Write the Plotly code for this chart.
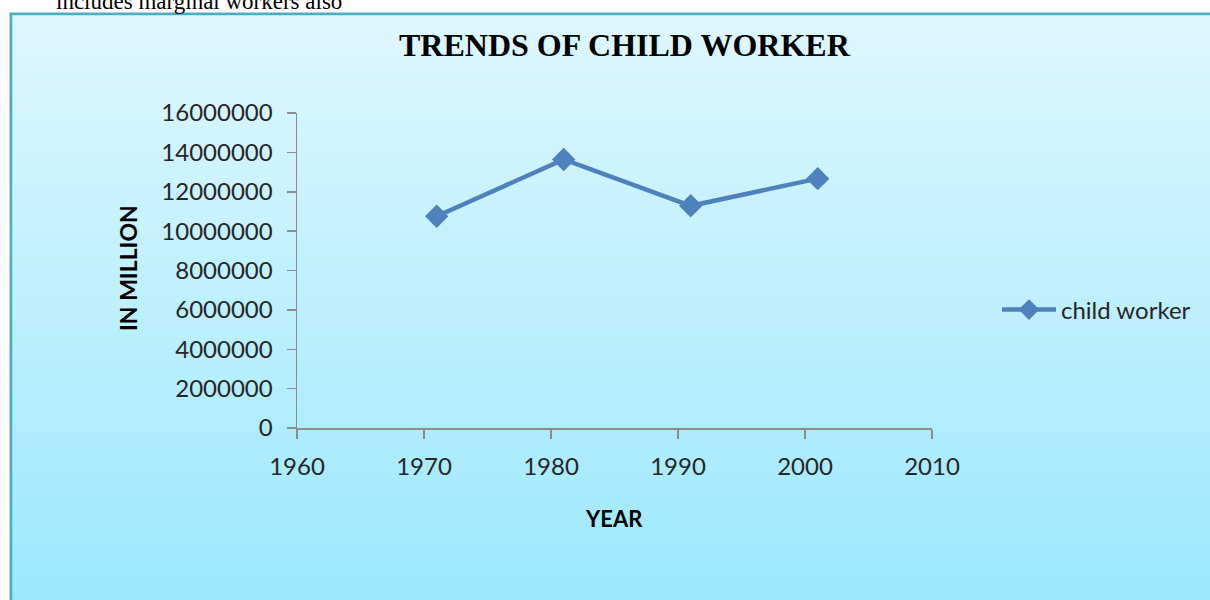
import plotly.graph_objects as go

years = [1971, 1981, 1991, 2001]
child_workers = [10753985, 13640870, 11285349, 12666377]
series_name = "child worker"
x_ticks = [1960, 1970, 1980, 1990, 2000, 2010]
y_ticks = [0, 2000000, 4000000, 6000000, 8000000, 10000000, 12000000, 14000000, 16000000]

W, H = 1210, 600
def px(x): return x / W
def py(y): return 1 - y / H

fig = go.Figure()
fig.add_trace(go.Scatter(
    x=years, y=child_workers, name=series_name, mode="lines+markers",
    line=dict(color="#4f81bd", width=4.5),
    marker=dict(symbol="diamond", size=18, color="#4f81bd"),
    showlegend=True,
))

shapes = []
top_c = (222, 247, 254)
bot_c = (156, 232, 253)
y0, y1 = 14, 600
n = 80
for i in range(n):
    t = i / (n - 1)
    c = tuple(round(top_c[k] + (bot_c[k] - top_c[k]) * t) for k in range(3))
    ya = y0 + (y1 - y0) * i / n
    yb = y0 + (y1 - y0) * (i + 1) / n + 0.5
    shapes.append(dict(type="rect", xref="paper", yref="paper", layer="below",
                       x0=px(11), x1=px(1215), y0=py(ya), y1=py(yb),
                       line=dict(width=0), fillcolor="rgb(%d,%d,%d)" % c))
shapes.append(dict(type="rect", xref="paper", yref="paper", layer="below",
                   x0=px(9.5), x1=px(1220), y0=py(12.5), y1=py(610),
                   line=dict(width=1, color="rgba(0,0,0,0.12)"), fillcolor="rgba(0,0,0,0)"))
shapes.append(dict(type="rect", xref="paper", yref="paper", layer="below",
                   x0=px(11), x1=px(1220), y0=py(14), y1=py(610),
                   line=dict(width=2.5, color="#4bacc6"), fillcolor="rgba(0,0,0,0)"))

sans = "Lato, Open Sans, sans-serif"
serif = "Liberation Serif, Times New Roman, serif"
tick_font = dict(family=sans, size=24, color="#262626")

fig.update_layout(
    width=W, height=H,
    margin=dict(l=0, r=0, t=0, b=0),
    paper_bgcolor="white",
    plot_bgcolor="white",
    shapes=shapes,
    showlegend=True,
    legend=dict(x=px(997), y=py(310), xanchor="left", yanchor="middle", itemwidth=54,
                bgcolor="rgba(0,0,0,0)", font=dict(family=sans, size=24, color="#262626")),
    xaxis=dict(domain=[px(297), px(932)], range=[1960, 2010], tickvals=x_ticks,
               ticktext=[str(v) for v in x_ticks], showgrid=False, zeroline=False,
               showline=True, linecolor="#8c8c8c", linewidth=1.5,
               ticks="outside", ticklen=9, tickcolor="#8c8c8c", tickwidth=1.5,
               tickfont=tick_font, automargin=False, ticklabelstandoff=8, fixedrange=True),
    yaxis=dict(domain=[py(428), py(113)], range=[0, 16000000], tickvals=y_ticks,
               ticktext=[str(v) for v in y_ticks], showgrid=False, zeroline=False,
               showline=True, linecolor="#8c8c8c", linewidth=1.5,
               ticks="outside", ticklen=9, tickcolor="#8c8c8c", tickwidth=1.5,
               tickfont=tick_font, automargin=False, ticklabelstandoff=9, fixedrange=True),
    annotations=[
        dict(text="includes marginal workers also", xref="paper", yref="paper",
             x=px(54), y=py(1.5), xanchor="left", yanchor="middle", showarrow=False,
             font=dict(family=serif, size=23, color="black")),
        dict(text="<b>TRENDS OF CHILD WORKER</b>", xref="paper", yref="paper",
             x=px(625), y=py(45), xanchor="center", yanchor="middle", showarrow=False,
             font=dict(family=serif, size=32, color="black")),
        dict(text="<b>IN MILLION</b>", xref="paper", yref="paper", textangle=-90,
             x=px(128), y=py(268), xanchor="center", yanchor="middle", showarrow=False,
             font=dict(family=sans, size=23, color="black")),
        dict(text="<b>YEAR</b>", xref="paper", yref="paper",
             x=px(614), y=py(518), xanchor="center", yanchor="middle", showarrow=False,
             font=dict(family=sans, size=22, color="black")),
    ],
)

fig.write_html("out.html", config={"displayModeBar": False, "staticPlot": True},
               post_script="document.body.style.margin='0';")
